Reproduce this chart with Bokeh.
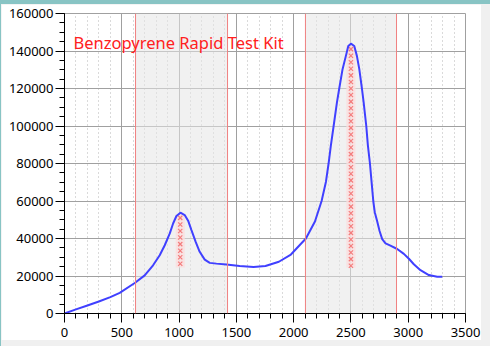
from bokeh.plotting import figure
from bokeh.layouts import column
from bokeh.models import FixedTicker, BoxAnnotation, Span, Label
from bokeh.embed import file_html
from bokeh.resources import INLINE

# ---- data ----
x_vals = [0, 100, 200, 300, 400, 482, 613, 700, 773, 831, 875, 919, 948, 977, 1012, 1049,
          1079, 1108, 1145, 1180, 1224, 1268, 1326, 1413, 1529, 1650, 1754, 1871, 1976,
          2107, 2186, 2244, 2282, 2305, 2325, 2349, 2378, 2398, 2427, 2456, 2477, 2500,
          2529, 2552, 2573, 2596, 2611, 2634, 2648, 2666, 2680, 2695, 2708, 2729, 2750,
          2773, 2802, 2845, 2904, 2962, 3006, 3049, 3107, 3180, 3253, 3297]
y_vals = [0, 2200, 4300, 6400, 8700, 11000, 16250, 20350, 25700, 31100, 36400, 42700, 48000,
          52000, 53750, 52500, 49500, 44500, 38200, 32900, 28750, 27000, 26600, 26100, 25350,
          24800, 25300, 27600, 31450, 40000, 49100, 60000, 70300, 80000, 89700, 100000,
          112600, 120000, 130300, 137400, 142650, 143900, 142650, 137400, 130300, 120000,
          112600, 100000, 89700, 80000, 70300, 60000, 54000, 49200, 44000, 39650, 37400,
          36200, 34400, 31800, 29200, 26250, 23100, 20500, 19650, 19650]

bands = [(620, 1423), (2103, 2898)]
peak_x = [1010, 2500]
peak_top = [53000, 143000]
peak_bottom = [24500, 24500]
marks1_y = [51000, 47500, 44000, 40500, 37000, 33500, 30000, 26500]
marks2_y = [141000, 137500, 134000, 130500, 127000, 123500, 120000, 116500, 113000, 109500,
            106000, 102500, 99000, 95500, 92000, 88500, 85000, 81500, 78000, 74500, 71000,
            67500, 64000, 60500, 57000, 53500, 50000, 46500, 43000, 39500, 36000, 32500,
            29000, 25500]
x_ticks = [0, 500, 1000, 1500, 2000, 2500, 3000, 3500]
x_minor = [v for v in range(0, 3501, 100)]
y_ticks = [0, 20000, 40000, 60000, 80000, 100000, 120000, 140000, 160000]
y_minor = [v for v in range(0, 160001, 5000)]
title_text = "Benzopyrene Rapid Test Kit"

FONT = "Noto Sans"

p = figure(width=480, height=336, x_range=(0, 3500), y_range=(0, 160000),
           output_backend="svg", toolbar_location=None,
           min_border_left=63, min_border_right=16, min_border_top=9, min_border_bottom=27,
           margin=(0, 0, 0, 0))
p.border_fill_color = "white"
p.background_fill_color = "white"
p.outline_line_color = "#a0a0a0"
p.outline_line_width = 1

# axes
for ax in (p.xaxis[0], p.yaxis[0]):
    ax.axis_line_color = "black"
    ax.major_tick_line_color = "black"
    ax.minor_tick_line_color = "black"
    ax.major_tick_in = 0
    ax.minor_tick_in = 0
    ax.major_tick_out = 9
    ax.minor_tick_out = 5
    ax.major_label_text_font = FONT
    ax.major_label_text_font_size = "13px"
    ax.major_label_text_color = "black"
p.xaxis[0].ticker = FixedTicker(ticks=x_ticks, minor_ticks=x_minor)
p.yaxis[0].ticker = FixedTicker(ticks=y_ticks, minor_ticks=y_minor)
p.xaxis[0].major_label_standoff = 5
p.yaxis[0].major_label_standoff = 2
p.yaxis[0].formatter.use_scientific = False

# grids
p.xgrid.grid_line_color = "#a0a0a0"
p.ygrid.grid_line_color = "#a0a0a0"
p.xgrid.minor_grid_line_color = "#b4b4b4"
p.xgrid.minor_grid_line_dash = "1 3"
p.xgrid.level = "underlay"
p.ygrid.level = "underlay"

# shaded bands
for (a, b) in bands:
    p.add_layout(BoxAnnotation(left=a, right=b, fill_color="#e6e6e6", fill_alpha=0.55,
                               line_color=None, level="underlay"))
    p.add_layout(Span(location=a, dimension="height", line_color="#f08080", line_width=1))
    p.add_layout(Span(location=b, dimension="height", line_color="#f08080", line_width=1))

# pink marker bands
p.quad(left=[px - 40 for px in peak_x], right=[px + 40 for px in peak_x],
       bottom=peak_bottom, top=peak_top, fill_color="#fbdede", fill_alpha=0.8, line_color=None)
p.scatter([peak_x[0]] * len(marks1_y), marks1_y, marker="x", size=6,
          line_color="#f47c7c", line_width=1.2)
p.scatter([peak_x[1]] * len(marks2_y), marks2_y, marker="x", size=6,
          line_color="#f47c7c", line_width=1.2)

# curve
p.line(x_vals, y_vals, line_color="#4040ff", line_width=2)

# title text
p.add_layout(Label(x=79, y=144500, text=title_text, text_color="#ff2020",
                   text_font=FONT, text_font_size="16.5px", text_baseline="alphabetic"))

layout = column(p, width=490, height=346,
                styles={"background-color": "#f0f0f0",
                        "border-top": "4px solid #88c4c4",
                        "border-left": "1px solid #88c4c4",
                        "box-sizing": "border-box"})

open("out.html", "w").write(file_html(layout, INLINE))
